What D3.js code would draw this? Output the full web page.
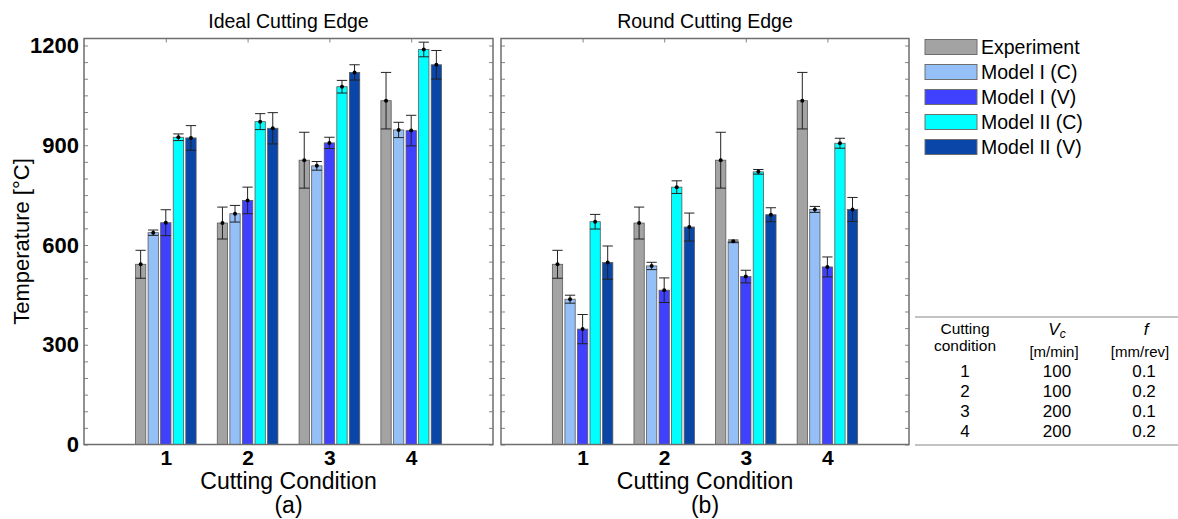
<!DOCTYPE html>
<html>
<head>
<meta charset="utf-8">
<script src="https://cdn.jsdelivr.net/npm/d3@7"></script>
<style>
  body { margin: 0; background: #fff; }
  svg { font-family: "Liberation Sans", Arial, sans-serif; }
</style>
</head>
<body>
<svg id="chart" width="1178" height="519"></svg>
<script>
// cutting conditions and series
var conditions = [1, 2, 3, 4];
var seriesNames = ["Experiment", "Model I (C)", "Model I (V)", "Model II (C)", "Model II (V)"];
var seriesColors = ["#a3a3a3", "#94bff7", "#4040ff", "#00ffff", "#0a46a8"];

// experiment (same in both panels)
var expMean = [542, 666, 855, 1034];
var expErr = [42, 48, 84, 85];

// (a) ideal cutting edge
var idealM1C = [637, 694, 838, 946];
var idealM1CErr = [8, 25, 13, 23];
var idealM1V = [667, 734, 907, 944];
var idealM1VErr = [39, 40, 17, 46];
var idealM2C = [924, 971, 1076, 1188];
var idealM2CErr = [10, 24, 19, 22];
var idealM2V = [922, 951, 1119, 1142];
var idealM2VErr = [37, 47, 23, 43];

// (b) round cutting edge
var roundM1C = [437, 537, 611, 707];
var roundM1CErr = [12, 11, 4, 9];
var roundM1V = [347, 464, 505, 534];
var roundM1VErr = [44, 37, 19, 30];
var roundM2C = [670, 774, 820, 906];
var roundM2CErr = [22, 19, 7, 15];
var roundM2V = [547, 654, 691, 707];
var roundM2VErr = [50, 42, 21, 36];

var yTicks = [0, 300, 600, 900, 1200];

// table of cutting conditions
var tableCond = ["1", "2", "3", "4"];
var tableVc = ["100", "100", "200", "200"];
var tableF = ["0.1", "0.2", "0.1", "0.2"];

var svg = d3.select("#chart");
var yTop = 38.5, yBottom = 444.5;
var yScale = d3.scaleLinear().domain([0, 1221]).range([yBottom, yTop]);

// build rows for one panel
function buildRows(means, errs) {
    var rows = [];
    conditions.forEach(function (c, i) {
        seriesNames.forEach(function (s, k) {
            rows.push({cond: c, series: s, color: seriesColors[k], mean: means[k][i], err: errs[k][i]});
        });
    });
    return rows;
}

// draw one panel
function drawPanel(x0, x1, title, sub, rows, showY) {
    var g = svg.append("g");
    var xScale = d3.scaleLinear().domain([0, 5]).range([x0, x1]);
    var groupW = (xScale(1) - xScale(0)) * 0.769;
    var inner = d3.scaleBand().domain(seriesNames)
        .range([-groupW / 2, groupW / 2])
        .paddingInner(0.18).paddingOuter(0.09);

    // ticks
    var fmt = function (d) { return (showY && yTicks.indexOf(d) >= 0) ? d : ""; };
    var left = g.append("g").attr("transform", "translate(" + x0 + ",0)")
        .call(d3.axisLeft(yScale).tickValues(d3.range(0, 1201, 50)).tickSize(-4).tickPadding(5).tickFormat(fmt));
    left.selectAll("text").attr("font-size", 22).attr("font-weight", "bold").attr("fill", "#000")
        .attr("font-family", "Liberation Sans, Arial, sans-serif");
    g.append("g").attr("transform", "translate(" + x1 + ",0)")
        .call(d3.axisRight(yScale).tickValues(d3.range(0, 1201, 50)).tickSize(-4).tickFormat(""));
    g.append("g").attr("transform", "translate(0," + yTop + ")")
        .call(d3.axisTop(xScale).tickValues(conditions).tickSize(-4).tickFormat(""));
    var bot = g.append("g").attr("transform", "translate(0," + yBottom + ")")
        .call(d3.axisBottom(xScale).tickValues(conditions).tickSize(-4).tickPadding(6).tickFormat(d3.format("d")));
    bot.selectAll("text").attr("font-size", 21).attr("font-weight", "bold").attr("fill", "#000")
        .attr("font-family", "Liberation Sans, Arial, sans-serif");
    g.selectAll(".domain").remove();
    g.selectAll(".tick line").attr("stroke", "#666").attr("stroke-width", 0.8);

    // bars
    var bw = inner.bandwidth();
    var gs = g.selectAll(".bar").data(rows).enter().append("g").attr("class", "bar")
        .attr("transform", d => "translate(" + (xScale(d.cond) + inner(d.series)) + ",0)");
    gs.append("rect")
        .attr("y", d => yScale(d.mean))
        .attr("width", bw)
        .attr("height", d => yBottom - yScale(d.mean))
        .attr("fill", d => d.color)
        .attr("stroke", "#5a5a5a")
        .attr("stroke-width", 0.8);
    // error bars
    gs.append("line")
        .attr("x1", bw / 2).attr("x2", bw / 2)
        .attr("y1", d => yScale(d.mean + d.err)).attr("y2", d => yScale(d.mean - d.err))
        .attr("stroke", "#222").attr("stroke-width", 1);
    gs.append("line")
        .attr("x1", 0).attr("x2", bw)
        .attr("y1", d => yScale(d.mean + d.err)).attr("y2", d => yScale(d.mean + d.err))
        .attr("stroke", "#222").attr("stroke-width", 1);
    gs.append("line")
        .attr("x1", 0).attr("x2", bw)
        .attr("y1", d => yScale(d.mean - d.err)).attr("y2", d => yScale(d.mean - d.err))
        .attr("stroke", "#222").attr("stroke-width", 1);
    gs.append("circle")
        .attr("cx", bw / 2).attr("cy", d => yScale(d.mean)).attr("r", 2)
        .attr("fill", "#000");

    // frame
    g.append("rect")
        .attr("x", x0).attr("y", yTop).attr("width", x1 - x0).attr("height", yBottom - yTop)
        .attr("fill", "none").attr("stroke", "#6e6e6e").attr("stroke-width", 1.5);

    var cx = (x0 + x1) / 2;
    g.append("text").attr("x", cx).attr("y", 28).attr("text-anchor", "middle")
        .attr("font-size", 19.5).text(title);
    g.append("text").attr("x", cx).attr("y", 489).attr("text-anchor", "middle")
        .attr("font-size", 23).text("Cutting Condition");
    g.append("text").attr("x", cx).attr("y", 513).attr("text-anchor", "middle")
        .attr("font-size", 23).text(sub);
}

drawPanel(84, 493, "Ideal Cutting Edge", "(a)",
    buildRows([expMean, idealM1C, idealM1V, idealM2C, idealM2V],
              [expErr, idealM1CErr, idealM1VErr, idealM2CErr, idealM2VErr]), true);
drawPanel(501, 909, "Round Cutting Edge", "(b)",
    buildRows([expMean, roundM1C, roundM1V, roundM2C, roundM2V],
              [expErr, roundM1CErr, roundM1VErr, roundM2CErr, roundM2VErr]), false);

// y label
svg.append("text")
    .attr("transform", "translate(29," + ((yTop + yBottom) / 2) + ") rotate(-90)")
    .attr("text-anchor", "middle").attr("font-size", 22)
    .text("Temperature [°C]");

// legend
var legend = svg.append("g").selectAll("g").data(seriesNames).enter().append("g")
    .attr("transform", (d, i) => "translate(925," + (47 + i * 25) + ")");
legend.append("rect")
    .attr("x", 0).attr("y", -7.5).attr("width", 52).attr("height", 15)
    .attr("fill", (d, i) => seriesColors[i])
    .attr("stroke", "#6e6e6e").attr("stroke-width", 1);
legend.append("text")
    .attr("x", 56).attr("y", 7).attr("font-size", 19.5)
    .text(d => d);

// table
var tbl = svg.append("g");
var cols = [965, 1057, 1144];
tbl.append("line").attr("x1", 915).attr("x2", 1178).attr("y1", 317).attr("y2", 317)
    .attr("stroke", "#888").attr("stroke-width", 1.2);
tbl.append("line").attr("x1", 915).attr("x2", 1178).attr("y1", 445).attr("y2", 445)
    .attr("stroke", "#888").attr("stroke-width", 1.2);
tbl.append("text").attr("x", cols[0]).attr("y", 334).attr("text-anchor", "middle")
    .attr("font-size", 15.5).text("Cutting");
tbl.append("text").attr("x", cols[0]).attr("y", 351).attr("text-anchor", "middle")
    .attr("font-size", 15.5).text("condition");
var vc = tbl.append("text").attr("x", cols[1]).attr("y", 335).attr("text-anchor", "middle")
    .attr("font-size", 17).attr("font-style", "italic");
vc.append("tspan").text("V");
vc.append("tspan").attr("font-size", 12).attr("dy", 3).text("c");
tbl.append("text").attr("x", cols[1] - 3).attr("y", 357).attr("text-anchor", "middle")
    .attr("font-size", 15).text("[m/min]");
tbl.append("text").attr("x", cols[2] + 2).attr("y", 335).attr("text-anchor", "middle")
    .attr("font-size", 17).attr("font-style", "italic").text("f");
tbl.append("text").attr("x", cols[2] - 4).attr("y", 357).attr("text-anchor", "middle")
    .attr("font-size", 15).text("[mm/rev]");
var rowY = d3.scaleLinear().domain([0, 3]).range([377, 437]);
[tableCond, tableVc, tableF].forEach(function (col, j) {
    tbl.selectAll(".c" + j).data(col).enter().append("text")
        .attr("x", cols[j]).attr("y", (d, i) => rowY(i))
        .attr("text-anchor", "middle").attr("font-size", 17)
        .text(d => d);
});
</script>
</body>
</html>
